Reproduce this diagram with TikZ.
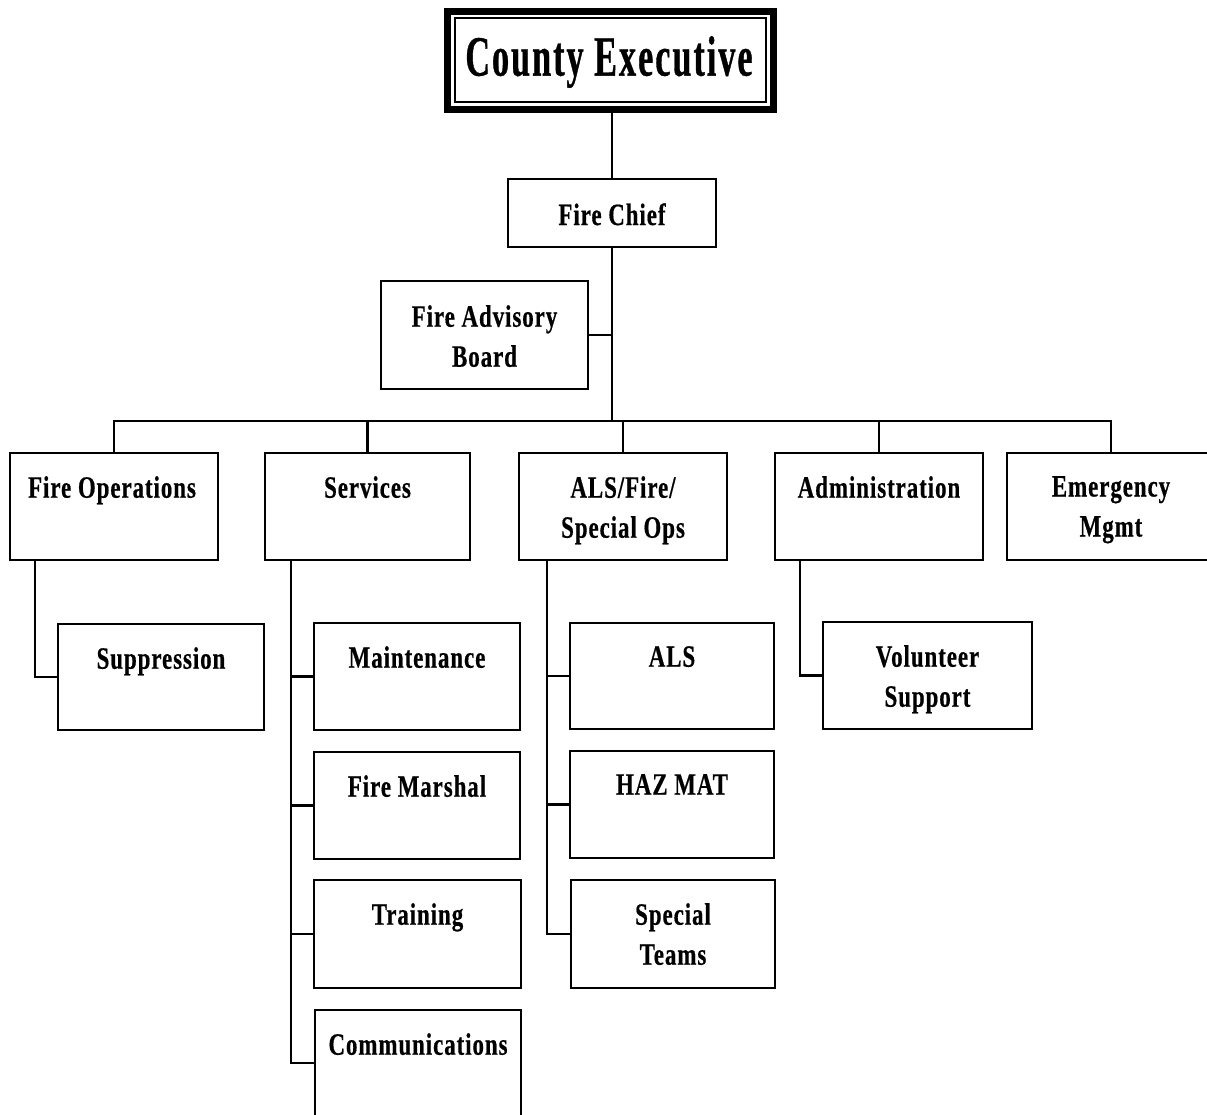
\documentclass[tikz,border=0pt]{standalone}
\usepackage{fontspec}
\usetikzlibrary{fit}
\newfontfamily\labfont[FakeStretch=0.74, LetterSpace=3, BoldFeatures={FakeBold=0.5}]{Liberation Serif}
\newfontfamily\headfont[FakeStretch=0.6, LetterSpace=3.5, BoldFeatures={FakeBold=0.6}]{Liberation Serif}
\begin{document}
\begin{tikzpicture}[x=1pt,y=-1pt,
  orgbox/.style={draw, line width=2.6pt, rectangle, inner sep=0pt, outer sep=0pt},
  lab/.style={anchor=north, align=center, inner sep=0pt,
    font=\labfont\bfseries\fontsize{31}{40}\selectfont},
  link/.style={line width=2.4pt}]
\useasboundingbox (0,0) rectangle (1207,1114);
\clip (0,0) rectangle (1207,1114);

% top of the chart
\node[draw, line width=7pt, inner sep=0pt, outer sep=0pt, fit={(447,11) (773,109.5)}] (ce) {};
\draw[line width=2pt] (455,18) rectangle (766,102);
\node[inner sep=0pt, font=\headfont\bfseries\fontsize{57}{60}\selectfont] (ce-t) at (609,62) {County Executive};

\node[orgbox, fit={(508,179) (716,247)}] (fc) {};
\node[lab] (fc-t) at ([yshift=-24pt]fc.north) {Fire Chief};

\node[orgbox, fit={(381,281) (588,389)}] (fab) {};
\node[lab] (fab-t) at ([yshift=-24pt]fab.north) {Fire Advisory\\Board};

% divisions
\node[orgbox, fit={(10,453) (218,560)}] (fo) {};
\node[lab] (fo-t) at ([xshift=-2pt,yshift=-23pt]fo.north) {Fire Operations};
\node[orgbox, fit={(265,453) (470,560)}] (sv) {};
\node[lab] (sv-t) at ([yshift=-23pt]sv.north) {Services};
\node[orgbox, fit={(519,453) (727,560)}] (als) {};
\node[lab] (als-t) at ([yshift=-23pt]als.north) {ALS/Fire/\\Special Ops};
\node[orgbox, fit={(775,453) (983,560)}] (adm) {};
\node[lab] (adm-t) at ([yshift=-23pt]adm.north) {Administration};
\node[orgbox, fit={(1007,453) (1215,560)}] (em) {};
\node[lab] (em-t) at ([yshift=-23pt]em.north) {Emergency\\Mgmt};

% units
\node[orgbox, fit={(58,624) (264,730)}] (sup) {};
\node[lab] (sup-t) at ([yshift=-23pt]sup.north) {Suppression};

\node[orgbox, fit={(314,623) (520,730)}] (mt) {};
\node[lab] (mt-t) at ([yshift=-23pt]mt.north) {Maintenance};
\node[orgbox, fit={(314,752) (520,859)}] (fm) {};
\node[lab] (fm-t) at ([yshift=-23pt]fm.north) {Fire Marshal};
\node[orgbox, fit={(314,880) (521,988)}] (tr) {};
\node[lab] (tr-t) at ([yshift=-23pt]tr.north) {Training};
\node[orgbox, fit={(315,1010) (521,1116)}] (com) {};
\node[lab] (com-t) at ([yshift=-23pt]com.north) {Communications};

\node[orgbox, fit={(570,623) (774,729)}] (alsu) {};
\node[lab] (alsu-t) at ([yshift=-23pt]alsu.north) {ALS};
\node[orgbox, fit={(570,751) (774,858)}] (hz) {};
\node[lab] (hz-t) at ([yshift=-23pt]hz.north) {HAZ MAT};
\node[orgbox, fit={(571,880) (775,988)}] (st) {};
\node[lab] (st-t) at ([yshift=-23pt]st.north) {Special\\Teams};

\node[orgbox, fit={(823,622) (1032,729)}] (vs) {};
\node[lab] (vs-t) at ([yshift=-23pt]vs.north) {Volunteer\\Support};

% reporting lines
\coordinate (bus) at (611,421);
\coordinate (forail) at (35,0);
\coordinate (svrail) at (291,0);
\coordinate (alsrail) at (547,0);
\coordinate (admrail) at (800,0);

\draw[link] (ce.south -| fc.north) -- (fc.north);
\draw[link] (fc.south) -- (fc.south |- bus);
\draw[link] (fab.east) -- (fab.east -| fc.south);
\draw[link] (fo.north) |- (em.north |- bus) -- (em.north);
\draw[link] (sv.north) -- (sv.north |- bus);
\draw[link] (als.north) -- (als.north |- bus);
\draw[link] (adm.north) -- (adm.north |- bus);

\draw[link] (fo.south -| forail) |- (sup.west);

\draw[link] (sv.south -| svrail) |- (com.west);
\draw[link] (mt.west) -- (mt.west -| svrail);
\draw[link] (fm.west) -- (fm.west -| svrail);
\draw[link] (tr.west) -- (tr.west -| svrail);

\draw[link] (als.south -| alsrail) |- (st.west);
\draw[link] (alsu.west) -- (alsu.west -| alsrail);
\draw[link] (hz.west) -- (hz.west -| alsrail);

\draw[link] (adm.south -| admrail) |- (vs.west);
\end{tikzpicture}
\end{document}
